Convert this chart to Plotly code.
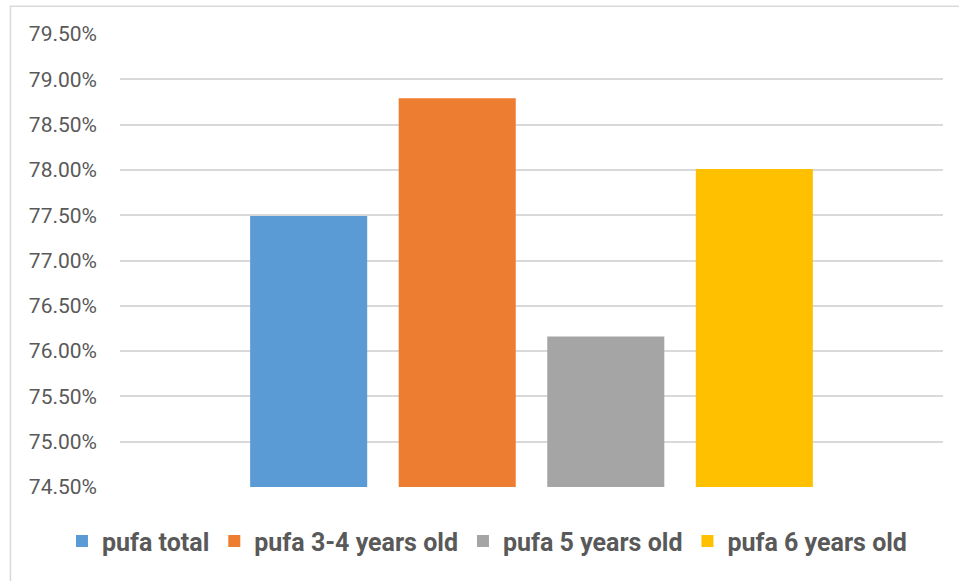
import plotly.graph_objects as go

category = ["PUFA"]
series_names = ["pufa total", "pufa 3-4 years old", "pufa 5 years old", "pufa 6 years old"]
series_values = [0.7749, 0.7879, 0.7616, 0.7801]
series_colors = ["#5B9BD5", "#ED7D31", "#A5A5A5", "#FFC000"]
y_ticks = [0.745, 0.75, 0.755, 0.76, 0.765, 0.77, 0.775, 0.78, 0.785, 0.79, 0.795]

fig = go.Figure()
for name, val, col in zip(series_names, series_values, series_colors):
    fig.add_trace(go.Bar(x=category, y=[val], name=name, marker=dict(color=col, line=dict(width=0)),
                         hoverinfo="skip"))

W, H = 959, 581
L, R, T, B = 120, 16.3, 34.3, 94.3
pw = W - L - R
ph = H - T - B

def px2x(p):
    return (p - L) / pw

def px2y(p):
    return (H - B - p) / ph

fig.update_layout(
    width=W, height=H,
    margin=dict(l=L, r=R, t=T, b=B, pad=0),
    paper_bgcolor="white", plot_bgcolor="white",
    barmode="group", bargap=0.278, bargroupgap=0.212,
    font=dict(family="Roboto", color="#595959"),
    xaxis=dict(showticklabels=False, showgrid=False, zeroline=False, showline=False, ticks=""),
    yaxis=dict(range=[0.745, 0.795], tickvals=y_ticks, tickformat=".2%",
               showgrid=True, gridcolor="#d9d9d9", gridwidth=1.5, zeroline=False,
               showline=False, ticks="", ticklabelstandoff=22,
               tickfont=dict(family="Roboto", size=21, color="#595959")),
    legend=dict(orientation="h", x=px2x(62), xanchor="left", y=px2y(541), yanchor="middle",
                font=dict(family="Roboto", size=25, color="#595959", weight="bold"),
                itemclick=False, itemdoubleclick=False, traceorder="normal",
                bgcolor="rgba(0,0,0,0)"),
    shapes=[dict(type="rect", xref="paper", yref="paper",
                 x0=px2x(10.5), x1=px2x(1030), y0=px2y(6.5), y1=px2y(640),
                 line=dict(color="#d9d9d9", width=1.5), fillcolor="rgba(0,0,0,0)", layer="below")],
)

fig.write_html("out.html")
